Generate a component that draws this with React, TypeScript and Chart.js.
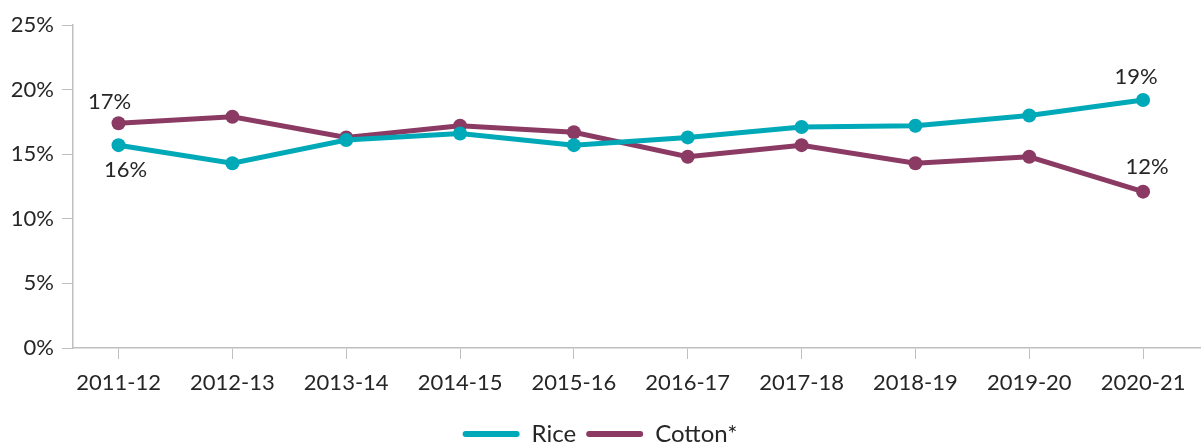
import React, { useEffect, useRef } from "react";
import { Chart, registerables } from "chart.js";

Chart.register(...registerables);

const categories = ["2011-12", "2012-13", "2013-14", "2014-15", "2015-16", "2016-17", "2017-18", "2018-19", "2019-20", "2020-21"];
const riceValues = [15.7, 14.3, 16.1, 16.6, 15.7, 16.3, 17.1, 17.2, 18.0, 19.2];
const cottonValues = [17.4, 17.9, 16.3, 17.2, 16.7, 14.8, 15.7, 14.3, 14.8, 12.1];
const yTicks = [0, 5, 10, 15, 20, 25];

const RICE = "#00a9b8";
const COTTON = "#8b3b63";
const AXIS = "#bfbfbf";
const TEXT = "#262626";
const FONT = "Lato, 'Noto Sans', sans-serif";

const labelSpecs = [
  { ds: 1, i: 0, dx: -9, dy: -21 },
  { ds: 0, i: 0, dx: 7, dy: 25 },
  { ds: 0, i: 9, dx: -7, dy: -23 },
  { ds: 1, i: 9, dx: 4, dy: -25 },
];

const valueLabels = {
  id: "valueLabels",
  afterDatasetsDraw(chart: any) {
    const ctx = chart.ctx;
    ctx.save();
    ctx.font = `22px ${FONT}`;
    ctx.fillStyle = TEXT;
    ctx.textAlign = "center";
    ctx.textBaseline = "middle";
    for (const s of labelSpecs) {
      const meta = chart.getDatasetMeta(s.ds);
      const pt = meta.data[s.i];
      const v = chart.data.datasets[s.ds].data[s.i];
      const val = typeof v === "number" ? v : v.y;
      ctx.fillText(Math.round(val) + "%", pt.x + s.dx, pt.y + s.dy);
    }
    ctx.restore();
  },
};

export default function App() {
  const ref = useRef<HTMLCanvasElement>(null);
  useEffect(() => {
    const canvas = ref.current!;
    const chart = new Chart(canvas, {
      type: "line",
      data: {
        datasets: [
          {
            label: "Rice",
            data: riceValues.map((y, x) => ({ x, y })),
            borderColor: RICE,
            backgroundColor: RICE,
            borderWidth: 5,
            pointRadius: 7,
            pointHoverRadius: 7,
            pointBackgroundColor: RICE,
            pointBorderWidth: 0,
            tension: 0,
          },
          {
            label: "Cotton*",
            data: cottonValues.map((y, x) => ({ x, y })),
            borderColor: COTTON,
            backgroundColor: COTTON,
            borderWidth: 5,
            pointRadius: 7,
            pointHoverRadius: 7,
            pointBackgroundColor: COTTON,
            pointBorderWidth: 0,
            tension: 0,
          },
        ],
      },
      options: {
        animation: false,
        responsive: false,
        maintainAspectRatio: false,
        layout: { autoPadding: false, padding: { top: 25, right: 2, left: 0, bottom: -8 } },
        plugins: {
          tooltip: { enabled: false },
          legend: {
            position: "bottom",
            labels: {
              font: { family: FONT, size: 24 },
              color: TEXT,
              boxWidth: 57,
              boxHeight: 6,
              useBorderRadius: true,
              borderRadius: 3,
              padding: 10,
              generateLabels(ch: any) {
                return ch.data.datasets.map((d: any, i: number) => ({
                  text: d.label,
                  fillStyle: d.borderColor,
                  strokeStyle: d.borderColor,
                  lineWidth: 0,
                  fontColor: TEXT,
                  datasetIndex: i,
                  hidden: false,
                  borderRadius: 3,
                }));
              },
            },
          },
        },
        scales: {
          x: {
            type: "linear",
            min: -0.4,
            max: 9.5,
            afterBuildTicks(scale: any) {
              scale.ticks = categories.map((_, i) => ({ value: i }));
            },
            afterFit(scale: any) {
              scale.height = 64;
              scale.paddingLeft = 0;
              scale.paddingRight = 0;
            },
            ticks: {
              callback: (v: any) => categories[v] ?? "",
              font: { family: FONT, size: 22 },
              color: TEXT,
              padding: 11,
              maxRotation: 0,
              autoSkip: false,
            },
            grid: { drawOnChartArea: false, drawTicks: true, tickLength: 11, color: AXIS },
            border: { color: AXIS, width: 1.5 },
          },
          y: {
            min: 0,
            max: 25,
            afterBuildTicks(scale: any) {
              scale.ticks = yTicks.map((v) => ({ value: v }));
            },
            afterFit(scale: any) {
              scale.width = 73;
            },
            ticks: {
              callback: (v: any) => v + "%",
              font: { family: FONT, size: 22 },
              color: TEXT,
              padding: 8,
            },
            grid: { drawOnChartArea: false, drawTicks: true, tickLength: 11, color: AXIS },
            border: { color: AXIS, width: 1.5 },
          },
        },
      },
      plugins: [valueLabels],
    });
    return () => chart.destroy();
  }, []);
  return (
    <div style={{ position: "fixed", left: 0, top: 0, width: 1202, height: 448, background: "#fff" }}>
      <canvas ref={ref} width={1202} height={448} style={{ width: 1202, height: 448 }} />
    </div>
  );
}
